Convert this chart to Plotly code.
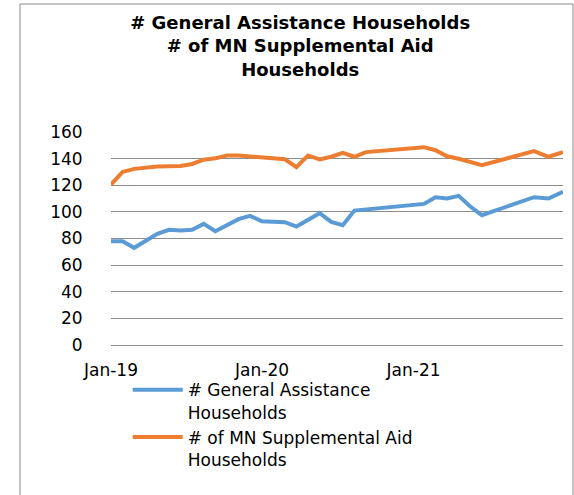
import plotly.graph_objects as go

# Reporting periods (four-week cadence; None = no report that period)
dates = [
    "2019-01-01", "2019-01-29", "2019-02-26", "2019-03-26", "2019-04-23",
    "2019-05-21", "2019-06-18", "2019-07-16", "2019-08-13", "2019-09-10",
    "2019-10-08", "2019-11-05", "2019-12-03", "2019-12-31", "2020-01-28",
    "2020-02-25", "2020-03-24", "2020-04-21", "2020-05-19", "2020-06-16",
    "2020-07-14", "2020-08-11", "2020-09-08", "2021-01-26", "2021-02-23",
    "2021-03-23", "2021-04-20", "2021-05-18", "2021-06-15", "2021-10-19",
    "2021-11-23", "2021-12-28",
]

general_assistance = [
    78, 78, 73, None, 83.5,
    86.5, 86, 86.5, 91, 85.5,
    None, 94.5, 97, 93, None,
    92.3, 89, None, 99, 92.5,
    90, 101, None, 106, 111,
    110, 112, 104, 97.5, 111,
    110, 115,
]

mn_supplemental_aid = [
    120.5, 130, 132.3, 133.5, 134,
    134.3, 134.5, 136, 139.2, 140.2,
    142.3, 142.3, 141.5, 141, 140.5,
    139.5, 133.6, 142.4, 139.4, 141.4,
    144.4, 141.4, 144.9, 148.6, 146.3,
    141.8, 139.9, None, 135.1, 145.6,
    141.4, 144.9,
]

series_names = [
    "# General Assistance<br>Households",
    "# of MN Supplemental Aid<br>Households",
]
series_colors = ["#5B9BD5", "#ED7D31"]

chart_title = "# General Assistance Households<br># of MN Supplemental Aid<br>Households"

FONT = "DejaVu Sans"

fig = go.Figure()
for name, values, color in zip(series_names,
                               [general_assistance, mn_supplemental_aid],
                               series_colors):
    fig.add_trace(go.Scatter(
        x=dates, y=values, name=name, mode="lines",
        connectgaps=True,
        line=dict(color=color, width=4),
    ))

# thin frame around the whole chart
fig.add_shape(
    type="rect", xref="paper", yref="paper",
    x0=-0.2013, x1=1.0221, y0=-1.0, y1=1.6009,
    line=dict(color="#8a8a8a", width=1), fillcolor="rgba(0,0,0,0)",
    layer="below",
)

fig.update_layout(
    width=574, height=495,
    margin=dict(l=111, r=11, t=132, b=150),
    paper_bgcolor="white", plot_bgcolor="white",
    font=dict(family=FONT, color="black"),
    title=dict(
        text=chart_title,
        font=dict(family=FONT, size=18, color="black", weight="bold"),
        xref="container", x=0.523, xanchor="center",
        yref="container", y=0.942, yanchor="top",
    ),
    xaxis=dict(
        type="date",
        range=["2019-01-01", "2021-12-28"],
        tick0="2019-01-01", dtick="M12", tickformat="%b-%y",
        showgrid=False, showline=False, zeroline=False,
        ticks="outside", ticklen=10, tickcolor="rgba(0,0,0,0)",
        tickfont=dict(family=FONT, size=17, color="black"),
    ),
    yaxis=dict(
        range=[0, 160], dtick=20,
        showgrid=True, gridcolor="#8c8c8c", gridwidth=1,
        zeroline=True, zerolinecolor="#8c8c8c", zerolinewidth=1,
        showline=False,
        ticks="outside", ticklen=24, tickcolor="rgba(0,0,0,0)",
        tickfont=dict(family=FONT, size=17, color="black"),
    ),
    showlegend=True,
    legend=dict(
        x=0.037, xanchor="left", y=-0.128, yanchor="top",
        orientation="v", valign="top", itemwidth=50,
        font=dict(family=FONT, size=17, color="black"),
        bgcolor="rgba(0,0,0,0)", tracegroupgap=0,
    ),
)

fig.write_html("out.html")
